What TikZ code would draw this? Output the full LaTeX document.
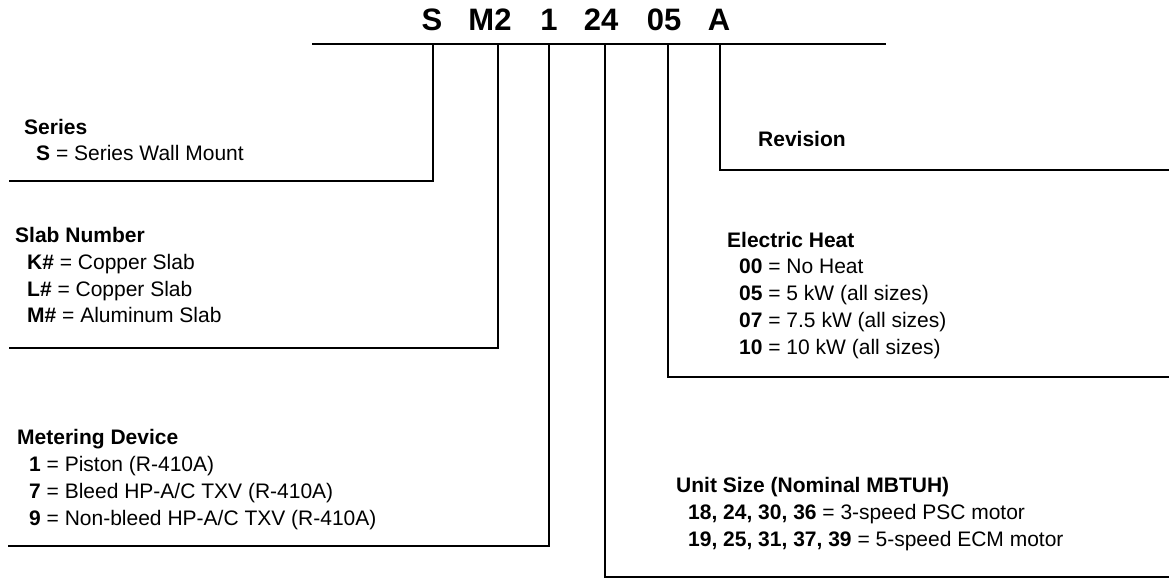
\documentclass[tikz,border=0pt]{standalone}
\usepackage{fontspec}
\setmainfont{Liberation Sans}
\usetikzlibrary{positioning}
\tikzset{
  code/.style={font=\fontsize{31}{31}\selectfont\bfseries, inner sep=0pt, anchor=base},
  block/.style={font=\fontsize{21}{26.7}\selectfont, align=left, inner sep=0pt, anchor=base west},
  lead/.style={line width=2pt, line cap=rect}
}
\newcommand{\itm}[2]{\hspace*{12pt}\textbf{#1} = #2}
\begin{document}
\begin{tikzpicture}[x=1pt, y=-1pt]
  \useasboundingbox (0,0) rectangle (1171,580);
  % model code
  \node[code] (cS)   at (432,31) {S};
  \node[code] (cM)   at (490,31) {M2};
  \node[code] (c1)   at (549,31) {1};
  \node[code] (c24)  at (601,31) {24};
  \node[code] (c05)  at (664,31) {05};
  \node[code] (cA)   at (719,31) {A};
  \coordinate (barL) at (313,44);
  \coordinate (barR) at (885,44);
  \draw[lead] (barL) -- (barR);
  % where the leads leave the bar
  \coordinate (tS)  at (433,44);
  \coordinate (tM)  at (498,44);
  \coordinate (t1)  at (549,44);
  \coordinate (t24) at (605,44);
  \coordinate (t05) at (668,44);
  \coordinate (tA)  at (720,44);
  % ends of the leads
  \coordinate (endS)  at (10,181);
  \coordinate (endM)  at (10,348);
  \coordinate (end1)  at (9,546);
  \coordinate (end24) at (1168,577);
  \coordinate (end05) at (1168,377);
  \coordinate (endA)  at (1168,170);
  \draw[lead] (tS)  |- (endS);
  \draw[lead] (tM)  |- (endM);
  \draw[lead] (t1)  |- (end1);
  \draw[lead] (t24) |- (end24);
  \draw[lead] (t05) |- (end05);
  \draw[lead] (tA)  |- (endA);
  % descriptions (placed at the baseline of their last line)
  \node[block] (series) at (24,161) {\textbf{Series}\\
    \itm{S}{Series Wall Mount}};
  \node[block] (slab) at (15,323) {\textbf{Slab Number}\\
    \itm{K\#}{Copper Slab}\\
    \itm{L\#}{Copper Slab}\\
    \itm{M\#}{Aluminum Slab}};
  \node[block] (meter) at (17,525) {\textbf{Metering Device}\\
    \itm{1}{Piston (R-410A)}\\
    \itm{7}{Bleed HP-A/C TXV (R-410A)}\\
    \itm{9}{Non-bleed HP-A/C TXV (R-410A)}};
  \node[block] (rev) at (758,147) {\textbf{Revision}};
  \node[block] (heat) at (727,354) {\textbf{Electric Heat}\\
    \itm{00}{No Heat}\\
    \itm{05}{5 kW (all sizes)}\\
    \itm{07}{7.5 kW (all sizes)}\\
    \itm{10}{10 kW (all sizes)}};
  \node[block] (size) at (676,546) {\textbf{Unit Size (Nominal MBTUH)}\\
    \itm{18, 24, 30, 36}{3-speed PSC motor}\\
    \itm{19, 25, 31, 37, 39}{5-speed ECM motor}};
\end{tikzpicture}
\end{document}
